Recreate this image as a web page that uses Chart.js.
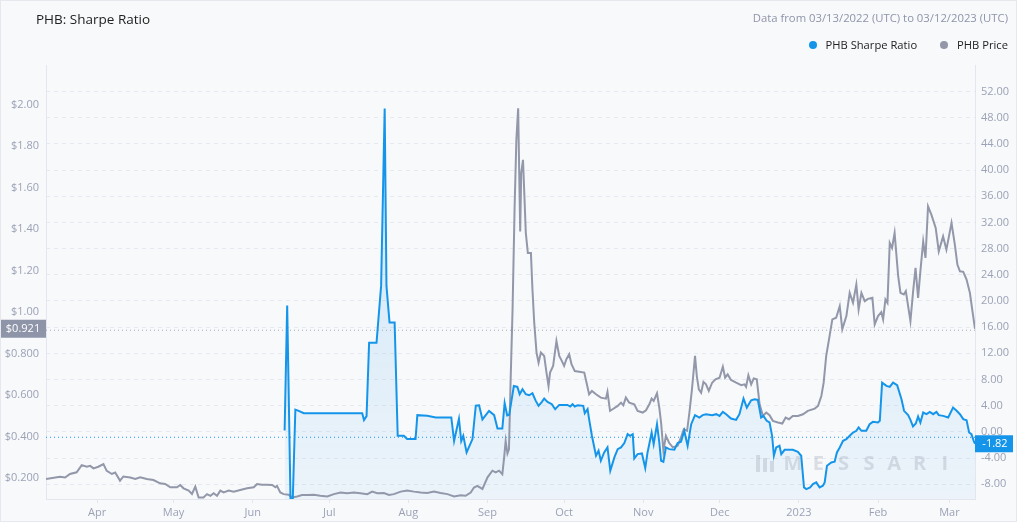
<!DOCTYPE html>
<html>
<head>
<meta charset="utf-8">
<script src="https://cdn.jsdelivr.net/npm/chart.js@4.4.1/dist/chart.umd.min.js"></script>
<style>
  html, body { margin: 0; padding: 0; }
  body { width: 1017px; height: 522px; background: #f8f9fb; font-family: "Open Sans", sans-serif; overflow: hidden; position: relative; }
  .frame { position: absolute; left: 0; top: 0; width: 1017px; height: 522px; border: 1px solid #e6e8ee; box-sizing: border-box; pointer-events: none; }
  #title { position: absolute; left: 36px; top: 10px; font-size: 13.5px; color: #222; }
  #range { position: absolute; right: 9px; top: 10px; font-size: 11.3px; color: #8e94a9; }
  #legend { position: absolute; right: 9px; top: 37px; font-size: 11.2px; color: #222; display: flex; gap: 23px; }
  #legend span { display: flex; align-items: center; }
  #legend i { display: inline-block; width: 8px; height: 8px; border-radius: 50%; margin-right: 9px; }
  #wrap { position: absolute; left: 0; top: 0; width: 1017px; height: 522px; }
</style>
</head>
<body>
<div id="wrap"><canvas id="chart" width="1017" height="522"></canvas></div>
<div id="title">PHB: Sharpe Ratio</div>
<div id="range">Data from 03/13/2022 (UTC) to 03/12/2023 (UTC)</div>
<div id="legend">
  <span><i style="background:#1595ea"></i>PHB Sharpe Ratio</span>
  <span><i style="background:#9297aa"></i>PHB Price</span>
</div>
<div class="frame"></div>
<script>
// day 0 = 03/13/2022
const monthDays = [20, 50, 81, 111, 142, 173, 203, 234, 264, 295, 326, 354];
const monthLabels = ["Apr", "May", "Jun", "Jul", "Aug", "Sep", "Oct", "Nov", "Dec", "2023", "Feb", "Mar"];
const priceTicks = [0.2, 0.4, 0.6, 0.8, 1.0, 1.2, 1.4, 1.6, 1.8, 2.0];
const sharpeTicks = [-8, -4, 0, 4, 8, 12, 16, 20, 24, 28, 32, 36, 40, 44, 48, 52];

const priceDays = [
  0, 5.5, 7.5, 9.4, 12, 14, 16, 17.3, 18.6, 20.5, 22.5, 23.8, 25.8, 27.1, 29, 30.3, 33, 35, 36.9, 39.5,
  42.1, 44.7, 46.7, 48.7, 51.3, 52.6, 53.9, 55.9, 57.2, 58.5, 59.8, 61.7, 63.1, 64.4, 65.7, 67, 68.3, 69.6, 71.6, 73.5,
  76.1, 78.8, 81.4, 82.7, 84.6, 86.6, 88.6, 89.9, 90.5, 91.8, 93.1, 95.1, 96.4, 98.4, 100.3, 102.3, 105, 107.5, 110.2, 112.8,
  115.4, 118, 120.6, 123.2, 125.9, 127.8, 129.8, 132.4, 134.4, 136.3, 139, 141.5, 144.2, 146.8, 149.4, 152, 154.6, 157.3, 159.9, 162.5,
  164.4, 166.4, 167.7, 169, 171, 173, 174.9, 176.2, 177.5, 178.8, 179.5, 180.1, 180.8, 181.4, 182.0, 182.8, 183.6, 184.3, 185.0, 185.8,
  186.2, 186.9, 187.5, 188.0, 188.8, 190.0, 190.6, 191.3, 192.2, 193.0, 193.9, 195.2, 196.1, 196.9, 197.5, 198.7, 200.0, 201.1, 202.1, 203.0,
  203.9, 205.0, 205.9, 207.2, 210.9, 211.8, 212.8, 213.9, 215.5, 217.4, 219.4, 220.0, 221.0, 222.0, 224.0, 225.3, 226.2, 227.2, 228.5, 230.5,
  231.8, 233.8, 235.1, 236.4, 237.3, 238.1, 239.4, 240.3, 241.0, 241.9, 242.9, 244.2, 245.6, 247.5, 248.8, 249.9, 251.2, 252.1, 253.1, 254.3,
  255.0, 255.8, 256.7, 257.6, 258.6, 259.7, 261.0, 262.3, 263.9, 265.2, 266.1, 267.1, 268.4, 270.4, 272.4, 273.7, 274.3, 275.2, 276.3, 277.3,
  278.5, 279.6, 280.9, 282.2, 283.5, 284.8, 286.8, 288.5, 289.8, 291.1, 292.6, 294.6, 296.6, 298.5, 301.2, 302.5, 303.8, 304.7, 305.7, 306.8,
  308.1, 309.6, 311.0, 312.0, 313.6, 314.9, 316.2, 317.5, 318.4, 319.5, 320.8, 322.1, 323.8, 324.7, 326.0, 327.3, 328.0, 328.9, 329.7, 330.6,
  331.5, 332.5, 333.9, 334.8, 336.1, 336.9, 337.8, 338.7, 339.7, 340.7, 341.7, 342.6, 343.7, 344.6, 345.6, 346.9, 348.6, 349.8, 351.5, 352.8,
  354.8, 356.1, 357.1, 358.1, 359.4, 360.7, 362.0, 363.0, 364
];
const priceValues = [
  0.197, 0.208, 0.204, 0.221, 0.229, 0.264, 0.256, 0.260, 0.248, 0.256, 0.269, 0.236, 0.221, 0.228, 0.189, 0.209, 0.204, 0.197, 0.205, 0.197,
  0.192, 0.176, 0.173, 0.157, 0.157, 0.168, 0.152, 0.141, 0.125, 0.160, 0.108, 0.108, 0.124, 0.116, 0.128, 0.116, 0.141, 0.132, 0.141, 0.136,
  0.144, 0.152, 0.157, 0.173, 0.169, 0.169, 0.168, 0.157, 0.164, 0.132, 0.124, 0.121, 0.108, 0.113, 0.120, 0.120, 0.121, 0.116, 0.113, 0.124,
  0.132, 0.128, 0.132, 0.128, 0.124, 0.136, 0.128, 0.129, 0.120, 0.124, 0.136, 0.141, 0.136, 0.132, 0.129, 0.136, 0.129, 0.124, 0.113, 0.119,
  0.116, 0.132, 0.156, 0.164, 0.149, 0.205, 0.237, 0.229, 0.237, 0.220, 0.300, 0.380, 0.320, 0.340, 0.650, 1.010, 1.500, 1.831, 1.983, 1.390,
  1.671, 1.735, 1.543, 1.383, 1.286, 1.286, 1.110, 0.950, 0.806, 0.757, 0.806, 0.790, 0.710, 0.645, 0.710, 0.742, 0.862, 0.790, 0.766, 0.742,
  0.774, 0.798, 0.750, 0.717, 0.710, 0.661, 0.605, 0.621, 0.605, 0.589, 0.584, 0.617, 0.525, 0.533, 0.549, 0.565, 0.552, 0.589, 0.565, 0.557,
  0.525, 0.517, 0.528, 0.557, 0.584, 0.573, 0.610, 0.541, 0.469, 0.333, 0.405, 0.370, 0.349, 0.357, 0.397, 0.437, 0.429, 0.517, 0.629, 0.790,
  0.693, 0.629, 0.613, 0.665, 0.653, 0.621, 0.661, 0.677, 0.685, 0.738, 0.685, 0.701, 0.674, 0.661, 0.649, 0.653, 0.641, 0.697, 0.653, 0.681,
  0.677, 0.557, 0.501, 0.517, 0.504, 0.477, 0.469, 0.464, 0.493, 0.485, 0.501, 0.501, 0.509, 0.525, 0.536, 0.549, 0.597, 0.661, 0.790, 0.870,
  0.966, 0.974, 1.030, 0.918, 0.982, 1.094, 1.046, 1.134, 1.014, 1.094, 1.054, 1.065, 1.070, 0.942, 0.982, 1.001, 0.966, 1.062, 1.046, 1.334,
  1.310, 1.382, 1.174, 1.094, 1.086, 1.102, 1.030, 0.958, 1.094, 1.214, 1.070, 1.198, 1.342, 1.262, 1.511, 1.471, 1.407, 1.294, 1.366, 1.302,
  1.431, 1.326, 1.230, 1.198, 1.195, 1.158, 1.094, 1.006, 0.921
];

const sharpeDays = [
  93.5, 94.5, 95.8, 96.7, 97.7, 99.0, 101.0, 123.9, 124.6, 125.6, 126.6, 129.5, 131.3, 132.7, 133.4, 134.6, 136.6, 137.8, 140.2, 141.5,
  144.8, 145.5, 149.4, 152.7, 158.8, 159.9, 161.8, 162.7, 163.5, 164.8, 167.1, 168.4, 169.7, 171.0, 173.6, 175.6, 176.9, 178.8, 179.7, 180.7,
  181.5, 183.3, 184.7, 185.6, 186.7, 188.0, 189.3, 190.6, 191.9, 193.0, 194.3, 195.2, 196.5, 198.2, 199.5, 201.1, 204.3, 205.4, 206.3, 207.2,
  208.3, 210.5, 211.1, 212.2, 212.8, 213.9, 215.5, 216.5, 217.4, 218.7, 220.0, 221.1, 222.7, 224.0, 225.3, 226.6, 227.9, 228.8, 229.9, 230.5,
  231.8, 233.5, 234.8, 235.7, 237.3, 238.1, 239.4, 240.3, 241.0, 241.9, 242.9, 244.2, 246.2, 247.5, 248.8, 250.1, 250.8, 251.4, 252.8, 254.3,
  256.0, 257.3, 258.6, 261.0, 262.6, 263.9, 265.2, 266.5, 268.4, 270.4, 271.7, 273.3, 274.6, 276.3, 277.6, 278.9, 280.2, 281.1, 282.4, 283.5,
  284.5, 285.2, 286.1, 287.4, 288.1, 289.4, 292.6, 294.6, 295.9, 297.0, 297.9, 299.4, 300.5, 301.8, 303.1, 304.4, 305.1, 306.0, 307.7, 309.0,
  309.9, 311.0, 312.3, 313.6, 314.9, 316.2, 317.5, 318.4, 319.5, 321.4, 322.7, 324.0, 326.0, 326.7, 327.6, 329.3, 330.6, 331.9, 333.5, 335.2,
  336.2, 337.8, 338.7, 339.7, 340.8, 341.7, 342.6, 343.7, 345.0, 346.3, 347.6, 348.9, 349.8, 351.5, 353.5, 355.4, 356.8, 358.1, 359.4, 360.7,
  361.7, 362.6, 363.5, 364
];
const sharpeValues = [
  0.2, 19.3, -10.2, -10.2, 3.4, 3.2, 2.85, 2.85, 1.8, 2.4, 13.6, 13.6, 22.3, 49.4, 22.3, 16.7, 16.7, -0.6, -0.6, -1.1,
  -1.1, 2.55, 2.45, 2.2, 2.2, -1.4, 2.0, -1.4, -0.6, -3.15, -1.1, 4.0, 4.05, 1.9, 3.2, 2.55, 0.5, 0.5, 4.4, 2.5,
  2.6, 7.0, 6.86, 5.75, 6.51, 5.75, 5.59, 5.9, 4.73, 3.97, 4.58, 5.09, 4.58, 4.22, 3.46, 4.12, 4.12, 3.87, 4.22, 3.87,
  4.07, 3.97, 2.85, 3.46, 1.94, -0.6, -3.65, -2.89, -4.42, -3.15, -2.38, -5.94, -3.91, -2.64, -2.38, -1.72, -0.35, -0.6, -0.35, -4.06,
  -3.4, -3.3, -5.53, -3.15, -0.1, -1.87, 1.17, -1.62, -4.42, -4.57, -2.38, -2.64, -2.74, -1.72, -1.52, 0.16, -1.11, -2.13, 1.17, 2.55,
  2.19, 2.55, 2.7, 2.55, 2.7, 2.44, 3.05, 2.7, 2.04, 1.83, 2.7, 5.09, 3.71, 4.83, 4.98, 4.88, 2.19, 2.44, 1.68, 1.43,
  -0.6, -3.65, -2.38, -2.13, -3.4, -2.74, -2.74, -3.05, -3.65, -8.48, -8.74, -8.48, -7.97, -7.72, -8.48, -8.23, -7.72, -5.18, -4.67, -4.57,
  -3.15, -2.38, -1.37, -1.11, -0.6, -0.1, 0.16, 0.67, 0.16, 0.16, 1.17, 1.53, 1.43, 1.68, 7.52, 7.02, 6.86, 7.52, 7.12, 4.98,
  3.21, 2.55, 1.83, 0.82, 1.27, 2.34, 1.43, 2.95, 2.7, 3.05, 2.7, 3.05, 2.55, 2.44, 2.19, 3.71, 3.21, 2.7, 1.94, 1.78,
  -0.1, -0.35, -1.37, -1.82
];

const blue = "#1595ea";
const gray = "#9297aa";
const tickColor = "#9ca2b6";
const lineColor = "#e3e6ee";

Chart.defaults.font.family = '"Open Sans", sans-serif';

const fmtPrice = (v) => "$" + (v >= 1 ? v.toFixed(2) : v.toFixed(3));
const fmtSharpe = (v) => v.toFixed(2);

// dotted last-value lines, axis badges and watermark
const extras = {
  id: "extras",
  beforeDatasetsDraw(chart) {
    const { ctx, chartArea: a, scales } = chart;
    ctx.save();
    // watermark
    ctx.fillStyle = "rgba(150,156,172,0.3)";
    ctx.fillRect(756, 455, 4, 17);
    ctx.fillRect(763, 458, 4, 14);
    ctx.fillRect(770, 461, 4, 11);
    ctx.font = "bold 20px 'Open Sans', sans-serif";
    ctx.textBaseline = "middle";
    ctx.textAlign = "center";
    "MESSARI".split("").forEach((ch, i) => ctx.fillText(ch, 793 + i * 25.3, 464));
    // dotted lines
    ctx.lineWidth = 1;
    ctx.setLineDash([1, 3]);
    const py = scales.yPrice.getPixelForValue(priceValues[priceValues.length - 1]) + 1.5;
    ctx.strokeStyle = "#a4a9b9";
    ctx.beginPath(); ctx.moveTo(a.left, py); ctx.lineTo(a.right, py); ctx.stroke();
    const sy = scales.ySharpe.getPixelForValue(sharpeValues[sharpeValues.length - 1]) - 6.5;
    ctx.strokeStyle = blue;
    ctx.beginPath(); ctx.moveTo(a.left, sy); ctx.lineTo(a.right, sy); ctx.stroke();
    ctx.restore();
  },
  afterDraw(chart) {
    const { ctx, chartArea: a, scales } = chart;
    ctx.save();
    ctx.font = "11px 'Open Sans', sans-serif";
    ctx.textBaseline = "middle";
    ctx.textAlign = "center";
    const pv = priceValues[priceValues.length - 1];
    const py = scales.yPrice.getPixelForValue(pv);
    ctx.fillStyle = "#8f95a9";
    ctx.fillRect(0, py - 9, a.left, 18);
    ctx.fillStyle = "#fff";
    ctx.fillText(fmtPrice(pv), a.left / 2, py);
    const sv = sharpeValues[sharpeValues.length - 1];
    const sy = scales.ySharpe.getPixelForValue(sv);
    ctx.fillStyle = blue;
    ctx.fillRect(a.right, sy - 8.5, 38, 17);
    ctx.fillStyle = "#fff";
    ctx.fillText(fmtSharpe(sv), a.right + 20, sy);
    ctx.restore();
  },
};

const toPoints = (xs, ys) => xs.map((x, i) => ({ x: x, y: ys[i] }));

new Chart(document.getElementById("chart"), {
  type: "line",
  data: {
    datasets: [
      {
        label: "PHB Sharpe Ratio",
        data: toPoints(sharpeDays, sharpeValues),
        yAxisID: "ySharpe",
        borderColor: blue,
        borderWidth: 2,
        pointRadius: 0,
        tension: 0,
        fill: "start",
        backgroundColor: (c) => {
          const area = c.chart.chartArea;
          if (!area) return "rgba(21,149,234,0.1)";
          const g = c.chart.ctx.createLinearGradient(0, area.top, 0, area.bottom);
          g.addColorStop(0, "rgba(21,149,234,0.2)");
          g.addColorStop(1, "rgba(21,149,234,0.05)");
          return g;
        },
      },
      {
        label: "PHB Price",
        data: toPoints(priceDays, priceValues),
        yAxisID: "yPrice",
        borderColor: gray,
        borderWidth: 2,
        pointRadius: 0,
        tension: 0,
        fill: false,
      },
    ],
  },
  options: {
    responsive: false,
    animation: false,
    layout: { padding: { top: 65, left: 0, right: 0, bottom: 0 } },
    plugins: {
      legend: { display: false },
      tooltip: { enabled: false },
      filler: { drawTime: "beforeDatasetsDraw" },
    },
    scales: {
      x: {
        type: "linear",
        min: 0,
        max: 364,
        afterBuildTicks: (s) => { s.ticks = monthDays.map((v) => ({ value: v })); },
        afterFit: (s) => { s.height = 23; },
        ticks: {
          color: tickColor,
          font: { size: 11 },
          padding: 3,
          maxRotation: 0,
          autoSkip: false,
          callback: (v, i) => monthLabels[i],
        },
        grid: { drawOnChartArea: false, drawTicks: true, tickLength: 4, color: lineColor },
        border: { color: lineColor },
      },
      yPrice: {
        type: "linear",
        position: "left",
        min: 0.1005,
        max: 2.192,
        afterBuildTicks: (s) => { s.ticks = priceTicks.map((v) => ({ value: v })); },
        afterFit: (s) => { s.width = 46; },
        ticks: { color: tickColor, font: { size: 11 }, padding: 7, callback: (v) => fmtPrice(v) },
        grid: { drawOnChartArea: false, drawTicks: false },
        border: { color: lineColor },
      },
      ySharpe: {
        type: "linear",
        position: "right",
        min: -10.26,
        max: 56.05,
        afterBuildTicks: (s) => { s.ticks = sharpeTicks.map((v) => ({ value: v })); },
        afterFit: (s) => { s.width = 42; },
        ticks: { color: tickColor, font: { size: 11 }, padding: 6, callback: (v) => fmtSharpe(v) },
        grid: { drawTicks: false, color: "#e6e9f0" },
        border: { color: lineColor, dash: [4, 4] },
      },
    },
  },
  plugins: [extras],
});
</script>
</body>
</html>
